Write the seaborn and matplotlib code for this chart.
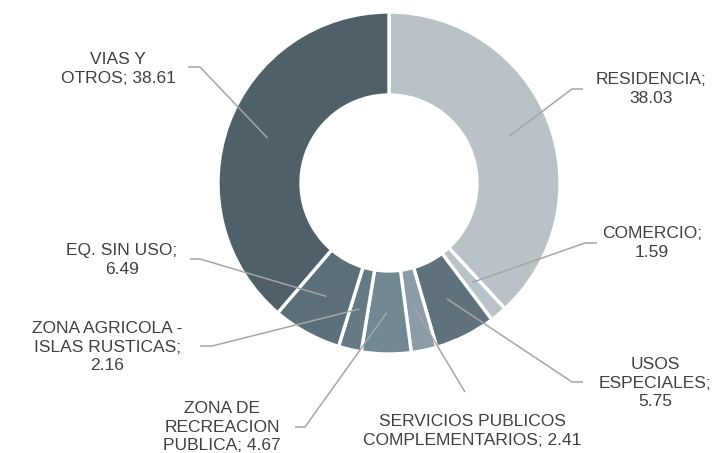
import matplotlib
matplotlib.use("Agg")
import matplotlib.pyplot as plt
import numpy as np
import seaborn as sns

# Land-use shares (%), clockwise from 12 o'clock
categories = ["RESIDENCIA", "COMERCIO", "USOS ESPECIALES",
              "SERVICIOS PUBLICOS COMPLEMENTARIOS", "ZONA DE RECREACION PUBLICA",
              "ZONA AGRICOLA - ISLAS RUSTICAS", "EQ. SIN USO", "VIAS Y OTROS"]
values = [38.03, 1.59, 5.75, 2.41, 4.67, 2.16, 6.49, 38.61]
label_texts = ["RESIDENCIA;\n38.03", "COMERCIO;\n1.59", "USOS\nESPECIALES;\n5.75",
               "SERVICIOS PUBLICOS\nCOMPLEMENTARIOS; 2.41", "ZONA DE\nRECREACION\nPUBLICA; 4.67",
               "ZONA AGRICOLA -\nISLAS RUSTICAS;\n2.16", "EQ. SIN USO;\n6.49", "VIAS Y\nOTROS; 38.61"]
colors = ["#b9c2c7", "#bac3c8", "#5f727c", "#8b9ca6",
          "#728893", "#657a84", "#5a6f79", "#4f6069"]

sns.set_theme(style="white")
plt.rcParams["font.family"] = ["Liberation Sans", "DejaVu Sans"]

W, H = 714, 453
fig = plt.figure(figsize=(W / 100, H / 100), dpi=100)
ax = fig.add_axes([0, 0, 1, 1])

def px(x, y):
    # pixel coordinates measured from the top-left corner -> data coordinates
    return x, H - y

cx, cy = px(389, 183)
R_OUT, R_IN = 171, 88

wedges, _ = ax.pie(values, colors=colors, startangle=90, counterclock=False,
                   radius=R_OUT, center=(cx, cy),
                   wedgeprops=dict(width=R_OUT - R_IN, edgecolor="white", linewidth=2.4))

# label layout: text centre, start of leader line, elbow of leader line (top-left pixels)
layout = [
    ((651, 89), (583, 89), (572, 89)),
    ((652, 243), (597, 243), (585, 243)),
    ((655, 383), (583, 382), (572, 382)),
    ((472, 431), (465, 392), (465, 392)),
    ((222, 427), (295, 427), (305, 427)),
    ((107, 347), (200, 346), (212, 346)),
    ((122, 260), (190, 259), (200, 259)),
    ((118, 69), (188, 67), (200, 67)),
]

r_mid = (R_OUT + R_IN) / 2
for w, txt, (tpos, lstart, elbow) in zip(wedges, label_texts, layout):
    ang = np.deg2rad((w.theta1 + w.theta2) / 2)
    ax_, ay_ = cx + r_mid * np.cos(ang), cy + r_mid * np.sin(ang)
    x0, y0 = px(*lstart)
    x1, y1 = px(*elbow)
    ax.plot([x0, x1, ax_], [y0, y1, ay_], color="#a6a6a6", lw=1.1,
            solid_capstyle="butt", zorder=5)
    tx, ty = px(*tpos)
    ax.text(tx, ty, txt, ha="center", va="center", fontsize=12.5,
            color="#404040", linespacing=1.32, multialignment="center")

ax.set_xlim(0, W)
ax.set_ylim(0, H)
ax.set_aspect("equal")
ax.axis("off")

fig.savefig("out.png", dpi=100, facecolor="white")
